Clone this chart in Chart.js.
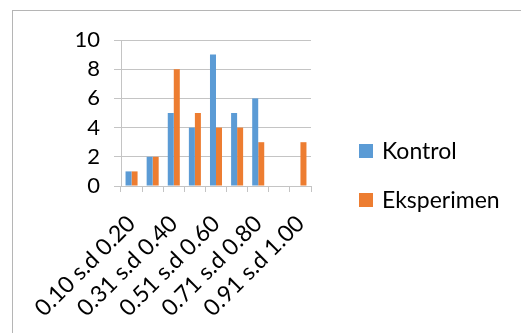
<!DOCTYPE html>
<html>
<head>
<meta charset="utf-8">
<script src="https://cdn.jsdelivr.net/npm/chart.js@4/dist/chart.umd.min.js"></script>
<style>
  html, body { margin: 0; padding: 0; background: #ffffff; }
  #wrap { position: relative; width: 521px; height: 333px; }
</style>
</head>
<body>
<div id="wrap"><canvas id="c" width="521" height="333"></canvas></div>
<script>
// Score ranges (every other one is labelled on the axis)
const categories = [
  '0.10 s.d 0.20', '0.21 s.d 0.30', '0.31 s.d 0.40', '0.41 s.d 0.50',
  '0.51 s.d 0.60', '0.61 s.d 0.70', '0.71 s.d 0.80', '0.81 s.d 0.90',
  '0.91 s.d 1.00'
];
const kontrol    = [1, 2, 5, 4, 9, 5, 6, 0, 0];
const eksperimen = [1, 2, 8, 5, 4, 4, 3, 0, 3];
const yTicks = [0, 2, 4, 6, 8, 10];

const FONT = 'Lato, "Open Sans", "Liberation Sans", sans-serif';
const GRID = '#C4C4C4';

// Outer frame of the chart (only its top and left edges fall inside the canvas)
const framePlugin = {
  id: 'frame',
  beforeDraw(chart) {
    const ctx = chart.ctx;
    ctx.save();
    ctx.fillStyle = '#ffffff';
    ctx.fillRect(0, 0, chart.width, chart.height);
    ctx.strokeStyle = '#B5B5B5';
    ctx.lineWidth = 1;
    ctx.strokeRect(12.5, 10.5, 700, 500);
    ctx.restore();
  }
};

// Legend drawn to the right of the plot
const sideLegend = {
  id: 'sideLegend',
  afterDraw(chart) {
    const ctx = chart.ctx;
    const x = 359, rows = [151, 200];
    ctx.save();
    ctx.font = '23px ' + FONT;
    ctx.textBaseline = 'middle';
    ctx.textAlign = 'left';
    chart.data.datasets.forEach((ds, i) => {
      const y = rows[i];
      ctx.fillStyle = ds.backgroundColor;
      ctx.fillRect(x, y - 7, 14, 14);
      ctx.fillStyle = '#000000';
      ctx.fillText(ds.label, x + 23, y + 1);
    });
    ctx.restore();
  }
};

new Chart(document.getElementById('c'), {
  type: 'bar',
  data: {
    labels: categories,
    datasets: [
      { label: 'Kontrol', data: kontrol, backgroundColor: '#5B9BD5',
        categoryPercentage: 0.57, barPercentage: 1.0 },
      { label: 'Eksperimen', data: eksperimen, backgroundColor: '#ED7D31',
        categoryPercentage: 0.57, barPercentage: 1.0 }
    ]
  },
  options: {
    responsive: false,
    animation: false,
    events: [],
    layout: { padding: { left: 0, top: 40, right: 210, bottom: 0 } },
    plugins: { legend: { display: false }, tooltip: { enabled: false } },
    scales: {
      x: {
        offset: true,
        grid: { drawOnChartArea: false, drawTicks: true, tickLength: 6,
                color: GRID, offset: true },
        border: { display: true, color: GRID, width: 1 },
        ticks: {
          autoSkip: false, maxRotation: 45, minRotation: 45,
          color: '#000000', padding: 18,
          font: { family: FONT, size: 23 },
          callback: (v, i) => (i % 2 === 0 ? categories[i] : '')
        },
        afterFit(axis) { axis.height = 147; }
      },
      y: {
        min: 0, max: 10,
        afterBuildTicks(axis) { axis.ticks = yTicks.map(v => ({ value: v })); },
        grid: { color: GRID, drawTicks: true, tickLength: 7 },
        border: { display: true, color: GRID, width: 1 },
        ticks: { color: '#000000', padding: 14, autoSkip: false,
                 font: { family: FONT, size: 22 } },
        afterFit(axis) { axis.width = 121; }
      }
    }
  },
  plugins: [framePlugin, sideLegend]
});
</script>
</body>
</html>
